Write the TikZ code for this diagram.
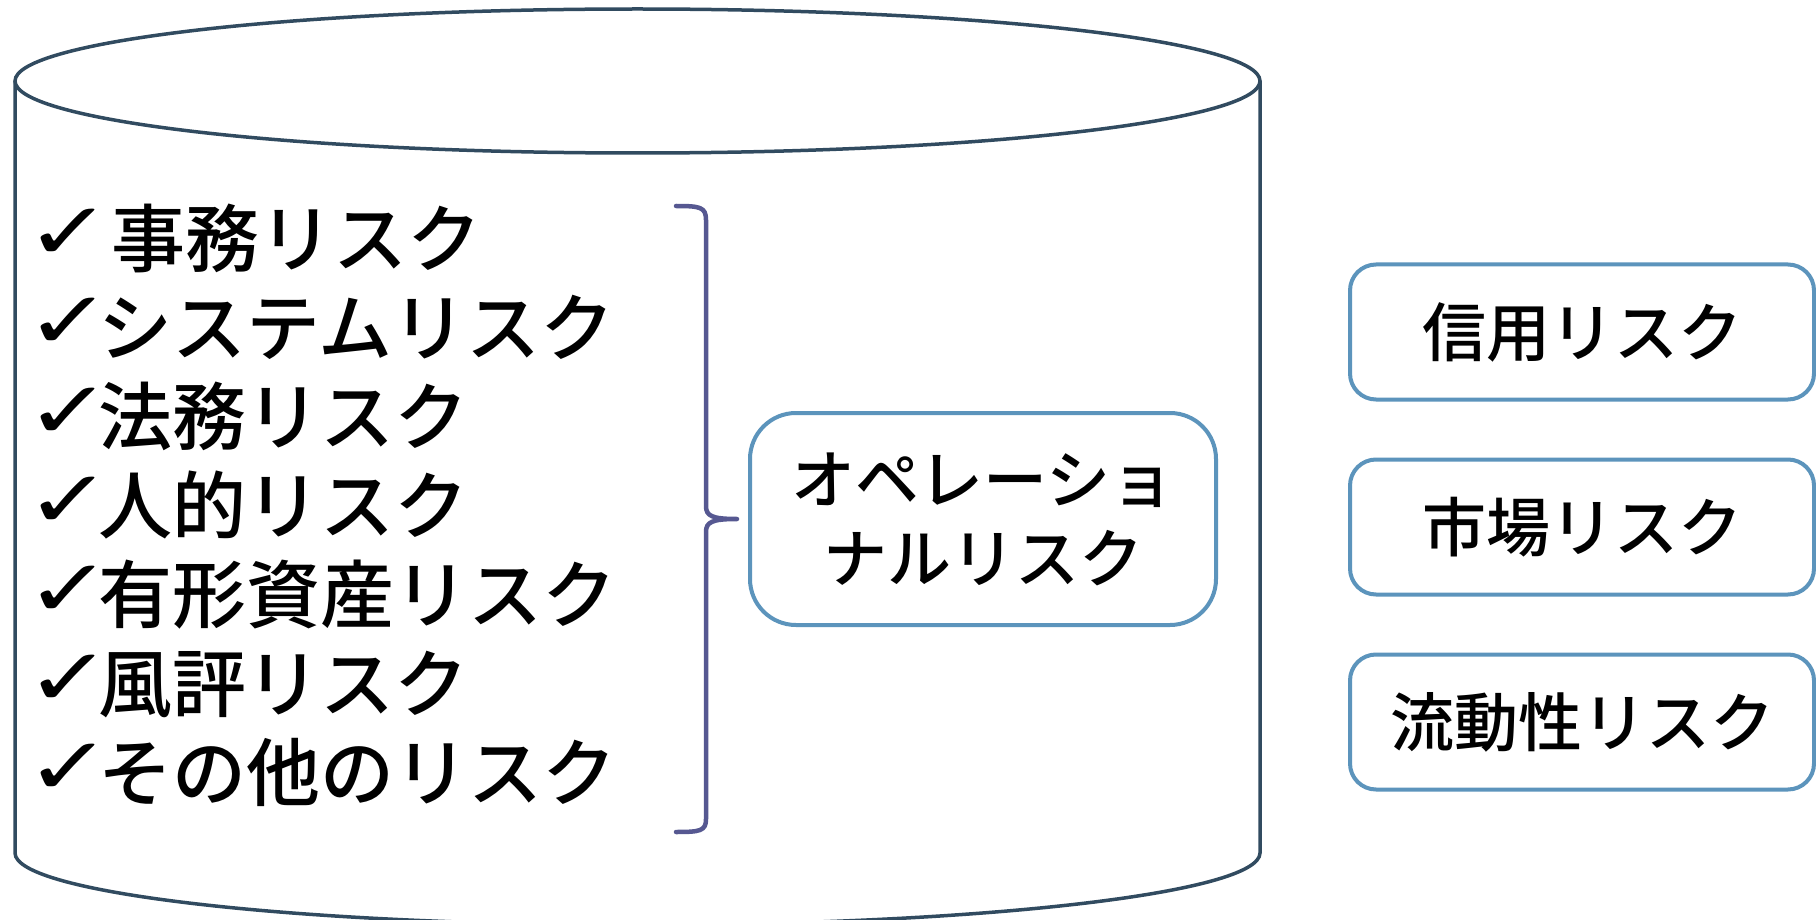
\documentclass[tikz,border=0pt]{standalone}
\usepackage{fontspec}
\newfontfamily\jp{Noto Sans CJK JP Medium}
\newfontfamily\chkfont{DejaVu Sans}
\definecolor{cylc}{RGB}{49,75,96}
\definecolor{brkc}{RGB}{86,88,145}
\definecolor{boxc}{RGB}{92,148,188}
\newcommand\ck{\makebox[58pt][l]{\hspace*{-15pt}\raisebox{6pt}{\scalebox{1.3}[1]{\chkfont\bfseries\fontsize{80}{80}\selectfont ✓}}}}
\begin{document}
\begin{tikzpicture}[x=1pt,y=-1pt,
  cyl/.style={draw=cylc, line width=3.5pt},
  brk/.style={draw=brkc, line width=4.5pt, line cap=round, line join=round},
  rbox/.style={draw=boxc, line width=4pt, rounded corners=26pt, minimum width=464pt, minimum height=135pt, inner sep=0pt, font=\jp\fontsize{64}{76}\selectfont},
  opbox/.style={draw=boxc, line width=4pt, rounded corners=46pt, minimum width=466pt, minimum height=212pt, inner sep=0pt, align=center, font=\jp\fontsize{64}{79}\selectfont},
  item/.style={anchor=base west, inner sep=0pt, font=\jp\fontsize{74}{85}\selectfont}]
\useasboundingbox (0,0) rectangle (1816,920);
\fill[white] (0,0) rectangle (1816,920);
% cylinder
\draw[cyl] (637.5,81) ellipse [x radius=622.5, y radius=72];
\draw[cyl] (15,81) -- (15,853)
  .. controls (15,893) and (293.7,925) .. (637.5,925)
  .. controls (981.3,925) and (1260,893) .. (1260,853) -- (1260,81);
% list
\node[item] (i1) at (40,266) {\ck\hspace{13pt}事務リスク};
\node[item] (i2) at (40,355) {\ck システムリスク};
\node[item] (i3) at (40,444) {\ck 法務リスク};
\node[item] (i4) at (40,533) {\ck 人的リスク};
\node[item] (i5) at (40,622) {\ck 有形資産リスク};
\node[item] (i6) at (40,711) {\ck 風評リスク};
\node[item] (i7) at (40,800) {\ck その他のリスク};
% bracket
\coordinate (bt) at (676,206);
\coordinate (bb) at (676,832);
\coordinate (tip) at (737,519);
\draw[brk] (bt) .. controls (700,206) and (706,207) .. (706,220) -- (706,506)
  .. controls (706,516) and (712,519) .. (tip)
  .. controls (712,519) and (706,522) .. (706,532) -- (706,819)
  .. controls (706,831) and (700,832) .. (bb);
% operational box
\node[opbox] (op) at (983,519) {\raisebox{-8pt}[\height][\depth]{\begin{tabular}{@{}c@{}}オペレーショ\\ナルリスク\end{tabular}}};
% right boxes
\node[rbox] (credit) at (1582,332) {信用リスク};
\node[rbox] (market) at (1582,527) {市場リスク};
\node[rbox] (liq) at (1582,722) {流動性リスク};
\end{tikzpicture}
\end{document}
